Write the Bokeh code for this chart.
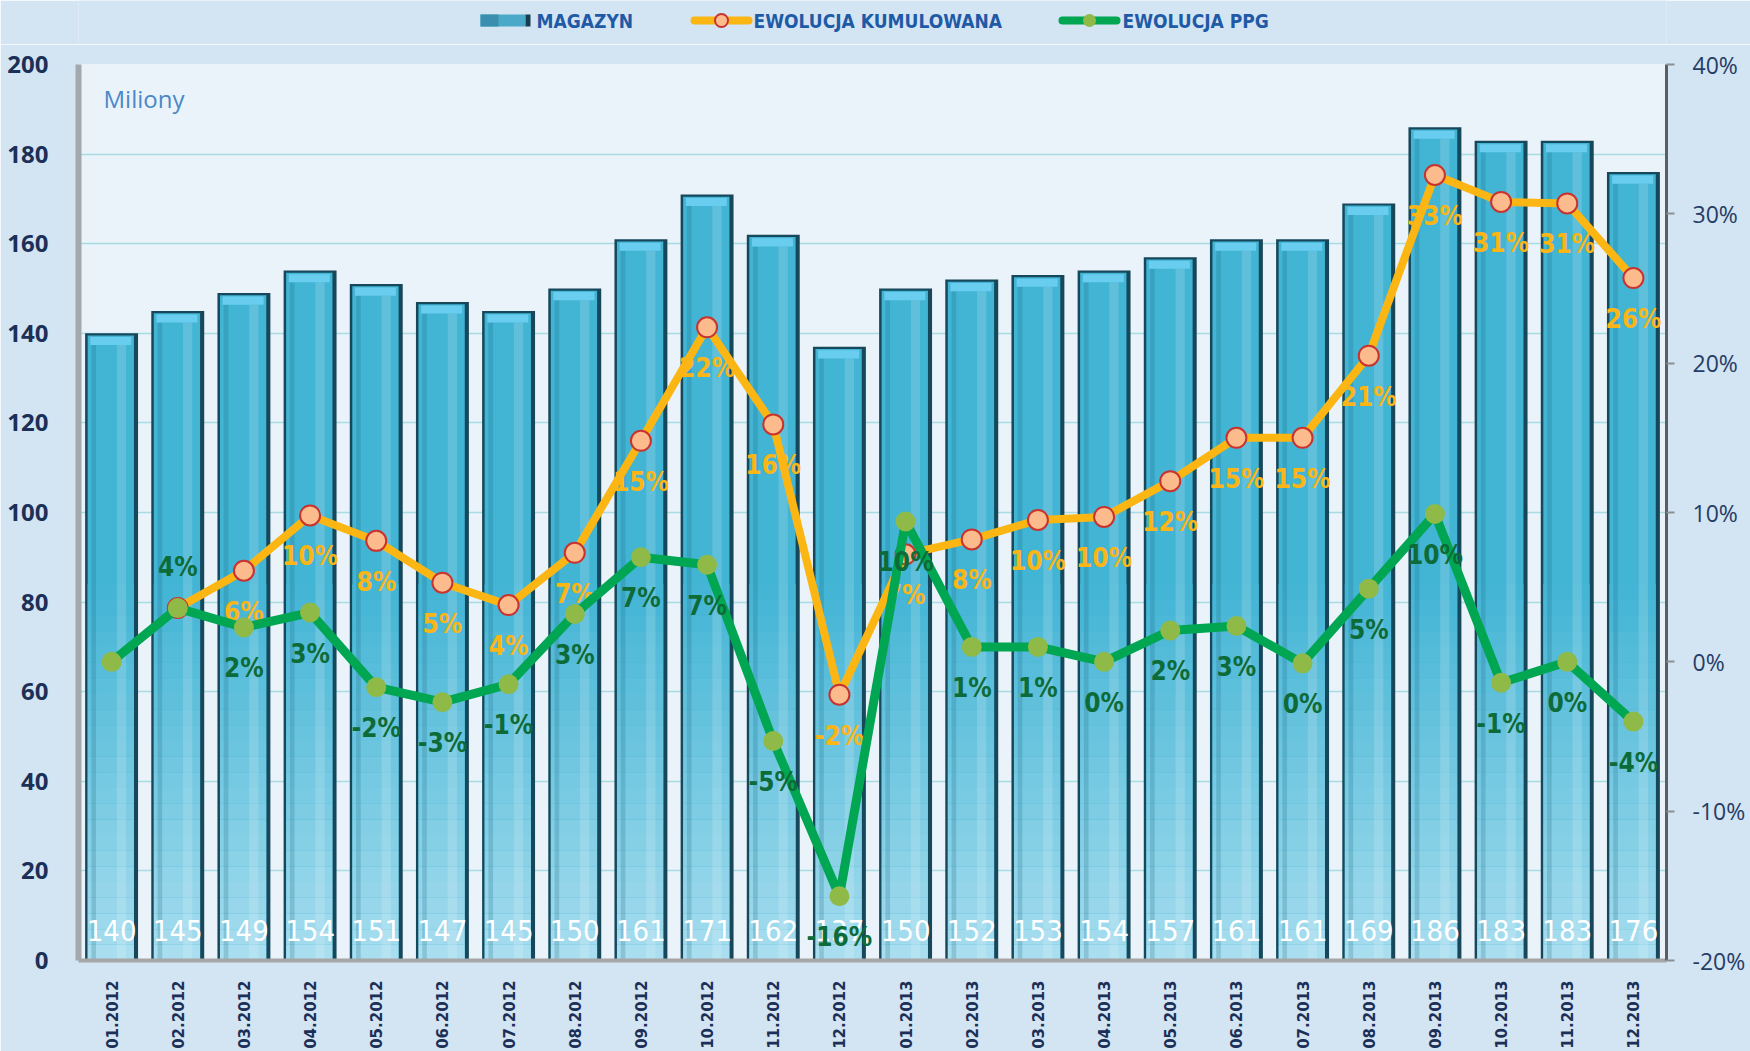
import numpy as np
from bokeh.plotting import figure
from bokeh.layouts import column
from bokeh.models import (Range1d, LinearAxis, FixedTicker, PrintfTickFormatter,
                          ColumnDataSource, Label)
from bokeh.core.properties import value
from bokeh.embed import file_html
from bokeh.resources import INLINE

# ---------------- data ----------------
months = ["01.2012", "02.2012", "03.2012", "04.2012", "05.2012", "06.2012",
          "07.2012", "08.2012", "09.2012", "10.2012", "11.2012", "12.2012",
          "01.2013", "02.2013", "03.2013", "04.2013", "05.2013", "06.2013",
          "07.2013", "08.2013", "09.2013", "10.2013", "11.2013", "12.2013"]
magazyn = [140, 145, 149, 154, 151, 147, 145, 150, 161, 171, 162, 137,
           150, 152, 153, 154, 157, 161, 161, 169, 186, 183, 183, 176]
kumulowana = [np.nan, 3.6, 6.1, 9.8, 8.1, 5.3, 3.8, 7.3, 14.8, 22.4, 15.9, -2.2,
              7.2, 8.2, 9.5, 9.7, 12.1, 15.0, 15.0, 20.5, 32.6, 30.8, 30.7, 25.7]
kumulowana_labels = ["", "", "6%", "10%", "8%", "5%", "4%", "7%", "15%", "22%", "16%", "-2%",
                     "7%", "8%", "10%", "10%", "12%", "15%", "15%", "21%", "33%", "31%", "31%", "26%"]
ppg = [0.0, 3.6, 2.3, 3.3, -1.7, -2.7, -1.5, 3.2, 7.0, 6.5, -5.3, -15.7,
       9.4, 1.0, 1.0, 0.0, 2.1, 2.4, -0.1, 4.9, 9.9, -1.4, 0.0, -4.0]
ppg_labels = ["", "4%", "2%", "3%", "-2%", "-3%", "-1%", "3%", "7%", "7%", "-5%", "-16%",
              "10%", "1%", "1%", "0%", "2%", "3%", "0%", "5%", "10%", "-1%", "0%", "-4%"]
left_ticks = [0, 20, 40, 60, 80, 100, 120, 140, 160, 180, 200]
right_ticks = [-20, -10, 0, 10, 20, 30, 40]
legend_names = ["MAGAZYN", "EWOLUCJA KUMULOWANA", "EWOLUCJA PPG"]

COND = "DejaVu Sans Condensed, Roboto, sans-serif"
BG = "#d3e4f3"
ORANGE = "#fcb614"
GREEN = "#00a651"
FRAME_L, FRAME_R = 78, 1666  # page pixels of the plotting frame

# ---------------- legend strip ----------------
LH = 44
leg = figure(width=1750, height=LH, output_backend="svg", toolbar_location=None,
             x_range=Range1d(FRAME_L, FRAME_R), y_range=Range1d(LH, 0),
             x_axis_type=None, y_axis_type=None,
             min_border=0, min_border_left=FRAME_L, min_border_right=1750 - FRAME_R,
             min_border_top=0, min_border_bottom=0,
             background_fill_color=BG, border_fill_color=BG, outline_line_color=None)
leg.grid.grid_line_color = None
ly = 20
leg.quad(left=[480], right=[525], bottom=[ly - 6], top=[ly + 6], fill_color="#4aa9c8", line_color=None)
leg.quad(left=[480], right=[498], bottom=[ly - 6], top=[ly + 6], fill_color="#3a8fae", line_color=None)
leg.quad(left=[525], right=[530], bottom=[ly - 6], top=[ly + 6], fill_color="#173f52", line_color=None)
leg.line([694, 748], [ly, ly], line_color=ORANGE, line_width=8, line_cap="round")
leg.scatter([721], [ly], size=13, fill_color="#fbbb8c", line_color="#c9332f", line_width=2)
leg.line([1062, 1116], [ly, ly], line_color=GREEN, line_width=8, line_cap="round")
leg.scatter([1089], [ly], size=13, fill_color="#8fba47", line_color=None)
leg.text(x=[536, 753, 1122], y=[ly, ly, ly], text=legend_names, text_baseline="middle",
         text_align="left", text_color="#1f5aa6", text_font=value(COND),
         text_font_size="19px", text_font_style="bold")

# ---------------- main figure ----------------
W, H = 1750, 1051 - LH
p = figure(width=W, height=H, output_backend="svg", toolbar_location=None,
           x_range=Range1d(-0.5, len(months) - 0.5), y_range=Range1d(0, 200),
           min_border_left=FRAME_L, min_border_right=1750 - FRAME_R, min_border_top=20,
           min_border_bottom=89,
           background_fill_color="#eaf3fa", border_fill_color=BG,
           outline_line_color=None)
p.extra_y_ranges = {"pct": Range1d(-20, 40)}

x = np.arange(len(months), dtype=float)
vals = np.array(magazyn, dtype=float)
src = ColumnDataSource(dict(x=x, xb=x - 0.012, xh=x + 0.15, xd=x - 0.27, top=vals,
                            body_top=vals - 0.5, cap_b=vals - 2.6, cap_t=vals - 0.8,
                            hl_top=vals - 2.6))

# grid / axes
p.ygrid.ticker = FixedTicker(ticks=left_ticks)
p.ygrid.grid_line_color = "#a9dbe3"
p.ygrid.grid_line_width = 1.5
p.xgrid.grid_line_color = None

yax = p.yaxis[0]
yax.ticker = FixedTicker(ticks=left_ticks)
yax.major_tick_line_color = None
yax.minor_tick_line_color = None
yax.axis_line_color = "#a3a8ad"
yax.axis_line_width = 6
yax.major_label_standoff = 24
yax.major_label_text_font = "Open Sans"
yax.major_label_text_font_style = "bold"
yax.major_label_text_font_size = "24px"
yax.major_label_text_color = "#1b2f57"

xax = p.xaxis[0]
xax.ticker = FixedTicker(ticks=list(range(len(months))))
xax.major_label_overrides = {i: m for i, m in enumerate(months)}
xax.major_label_orientation = np.pi / 2
xax.major_tick_line_color = None
xax.minor_tick_line_color = None
xax.axis_line_color = "#a6a6a6"
xax.axis_line_width = 4
xax.major_label_standoff = 14
xax.major_label_text_font = "DejaVu Sans"
xax.major_label_text_font_style = "bold"
xax.major_label_text_font_size = "15px"
xax.major_label_text_color = "#1b2f57"

rax = LinearAxis(y_range_name="pct", ticker=FixedTicker(ticks=right_ticks),
                 formatter=PrintfTickFormatter(format="%d%%"))
rax.axis_line_color = "#5b5f63"
rax.axis_line_width = 3
rax.major_tick_line_color = "#8a8f94"
rax.major_tick_line_width = 2
rax.major_tick_out = 8
rax.major_tick_in = 0
rax.minor_tick_line_color = None
rax.major_label_standoff = 18
rax.major_label_text_font = "Open Sans"
rax.major_label_text_font_size = "23px"
rax.major_label_text_color = "#263d66"
p.add_layout(rax, "right")

# ---------------- bars ----------------
p.vbar(x="x", width=0.80, bottom=0, top="top", source=src,
       fill_color="#16475a", line_color=None)
p.vbar(x="xb", width=0.70, bottom=0, top="body_top", source=src,
       fill_color="#42b4d4", line_color=None)


def mix(c1, c2, t):
    a = [int(c1[i:i + 2], 16) for i in (1, 3, 5)]
    b = [int(c2[i:i + 2], 16) for i in (1, 3, 5)]
    return "#%02x%02x%02x" % tuple(int(round(a[k] + (b[k] - a[k]) * t)) for k in range(3))


nb = 24
step = 3.5
for k in range(nb):
    y0, y1 = k * step, (k + 1) * step
    col = mix("#abdff0", "#42b4d4", ((k + 0.5) / nb) ** 0.9)
    p.vbar(x=x - 0.012, width=0.70, bottom=y0, top=np.minimum(vals - 0.5, y1),
           fill_color=col, line_color=None)

p.vbar(x="xh", width=0.14, bottom=0, top="hl_top", source=src,
       fill_color="#ffffff", fill_alpha=0.16, line_color=None)
p.vbar(x="xd", width=0.07, bottom=0, top="hl_top", source=src,
       fill_color="#15627e", fill_alpha=0.22, line_color=None)
p.vbar(x="xb", width=0.62, bottom="cap_b", top="cap_t", source=src,
       fill_color="#68cdee", line_color=None)

p.text(x=x, y=6.7, text=[str(v) for v in magazyn], text_align="center",
       text_baseline="middle", text_color="white",
       text_font=value(COND), text_font_size="29px")

# ---------------- lines ----------------
kum_off = [41] * len(months)
ppg_off = [-41 if i == 1 else 41 for i in range(len(months))]

p.line(x, kumulowana, y_range_name="pct", line_color=ORANGE, line_width=8, line_join="round")
p.scatter(x, kumulowana, y_range_name="pct", size=20, marker="circle",
          fill_color="#fbbb8c", line_color="#c9332f", line_width=2)
p.text(x=x, y=kumulowana, text=kumulowana_labels, y_range_name="pct", y_offset=kum_off,
       text_align="center", text_baseline="middle", text_color="#fbb515",
       text_font=value(COND), text_font_size="26px", text_font_style="bold")

p.line(x, ppg, y_range_name="pct", line_color=GREEN, line_width=9, line_join="round")
p.scatter(x, ppg, y_range_name="pct", size=20, marker="circle",
          fill_color="#8fba47", line_color=None)
p.text(x=x, y=ppg, text=ppg_labels, y_range_name="pct", y_offset=ppg_off,
       text_align="center", text_baseline="middle", text_color="#0d6b38",
       text_font=value(COND), text_font_size="26px", text_font_style="bold")

p.add_layout(Label(x=25, y=862, x_units="screen", y_units="screen", text="Miliony",
                   text_font="Open Sans", text_font_size="24px", text_color="#4a88c8",
                   text_baseline="middle"))

layout = column(leg, p, spacing=0)
html = file_html(layout, INLINE)
html = html.replace("<body>", '<body style="background:%s">' % BG, 1)
open("out.html", "w").write(html)
